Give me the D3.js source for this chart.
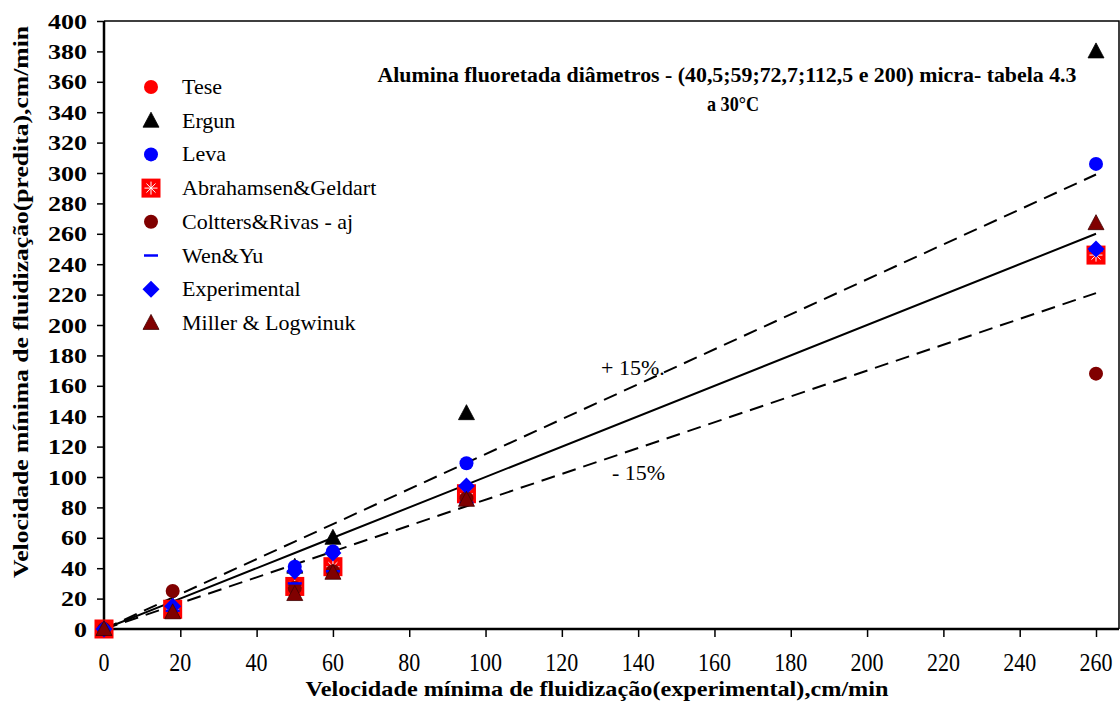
<!DOCTYPE html>
<html>
<head>
<meta charset="utf-8">
<script src="https://cdn.jsdelivr.net/npm/d3@7"></script>
<style>
  html, body { margin: 0; padding: 0; background: #fff; }
</style>
</head>
<body>
<svg id="chart" width="1120" height="725"></svg>
<script>
// Experimental minimum fluidization velocity (cm/min)
const xExp = [0, 18, 50, 60, 95, 260];

// Predicted minimum fluidization velocity for each correlation (cm/min)
const tese        = [0, 13, 28, 41, 89, 246];
const ergun       = [0, 15, 41, 60, 142, 380];
const leva        = [0, 14, 41, 51, 109, 306];
const abrahamsen  = [0, 13, 28, 41, 89, 246];
const coltters    = [0, 25, 27, 38, 86, 168];
const wenYu       = [0, 12, 30, 38, 83, 249];
const experimental= [0, 15, 38, 50, 94, 250];
const miller      = [0, 11, 23, 37, 85, 267];

// Reference lines: perfect agreement and the +/-15% band
const lineX   = [0, 18, 50, 60, 95, 260];
const ideal   = [0, 18, 50, 60, 95, 260];
const plus15  = [0, 20.7, 57.5, 69, 109.3, 299];
const minus15 = [0, 15.3, 42.5, 51, 80.8, 221];

const xTicks = [0, 20, 40, 60, 80, 100, 120, 140, 160, 180, 200, 220, 240, 260];
const yTicks = [0, 20, 40, 60, 80, 100, 120, 140, 160, 180, 200, 220, 240, 260, 280, 300, 320, 340, 360, 380, 400];

const seriesNames = ["Tese", "Ergun", "Leva", "Abrahamsen&Geldart", "Coltters&Rivas - aj",
                     "Wen&Yu", "Experimental", "Miller & Logwinuk"];
const seriesValues = [tese, ergun, leva, abrahamsen, coltters, wenYu, experimental, miller];
const seriesShapes = ["circle", "triangle", "circle", "square", "circle", "dash", "diamond", "triangle"];
const seriesColors = ["#ff0000", "#000000", "#0000ff", "#ff0000", "#800000", "#0000ff", "#0000ff", "#800000"];

const titleLines = ["Alumina fluoretada diâmetros - (40,5;59;72,7;112,5 e 200) micra- tabela 4.3", "a 30°C"];
const xTitle = "Velocidade mínima de fluidização(experimental),cm/min";
const yTitle = "Velocidade mínima de fluidização(predita),cm/min";

const SERIF = "'Liberation Serif', 'Times New Roman', Times, serif";

(function draw() {
  const svg = d3.select("#chart");
  const pLeft = 104, pRight = 1096, pTop = 21, pBottom = 629, frameRight = 1119;

  const x = d3.scaleLinear().domain([0, 260]).range([pLeft, pRight]);
  const y = d3.scaleLinear().domain([0, 400]).range([pBottom, pTop]);

  // frame (top and right)
  svg.append("path")
    .attr("d", `M${pLeft},${pTop}H${frameRight}V${pBottom}`)
    .attr("fill", "none").attr("stroke", "#000").attr("stroke-width", 1.5);

  // x axis: ticks from d3, labels placed as their own row further below
  const xAxis = svg.append("g").attr("transform", `translate(0,${pBottom})`)
    .call(d3.axisBottom(x).tickValues(xTicks).tickSize(8).tickFormat(""));
  xAxis.select(".domain").attr("d", `M${pLeft},0H${frameRight}`).attr("stroke-width", 2.5);
  xAxis.selectAll(".tick line").attr("stroke-width", 1.5);
  svg.append("g").selectAll("text").data(xTicks).join("text")
    .attr("x", d => x(d)).attr("y", 671)
    .attr("text-anchor", "middle")
    .attr("font-family", SERIF).attr("font-size", 26).attr("fill", "#000")
    .attr("textLength", d => String(d).length * 11)
    .attr("lengthAdjust", "spacingAndGlyphs")
    .text(d => d);

  // y axis
  const yAxis = svg.append("g").attr("transform", `translate(${pLeft},0)`)
    .call(d3.axisLeft(y).tickValues(yTicks).tickSize(7).tickPadding(10).tickFormat(d3.format("d")));
  yAxis.attr("font-family", SERIF).attr("font-size", 22);
  yAxis.select(".domain").attr("d", `M0,${pTop}V${pBottom}`).attr("stroke-width", 2.5);
  yAxis.selectAll(".tick line").attr("stroke-width", 1.5);
  yAxis.selectAll(".tick text")
    .attr("font-family", SERIF).attr("font-size", 22).attr("font-weight", "bold")
    .attr("fill", "#000")
    .attr("textLength", d => String(d).length * 13)
    .attr("lengthAdjust", "spacingAndGlyphs");

  function addText(sel, size, weight) {
    return sel.append("text").attr("font-family", SERIF).attr("font-size", size)
      .attr("font-weight", weight || "normal").attr("fill", "#000");
  }

  // axis titles
  addText(svg, 22, "bold").attr("x", 597).attr("y", 696).attr("text-anchor", "middle")
    .attr("textLength", 583).attr("lengthAdjust", "spacingAndGlyphs").text(xTitle);
  addText(svg, 22, "bold").attr("transform", "translate(28,302) rotate(-90)").attr("text-anchor", "middle")
    .attr("textLength", 552).attr("lengthAdjust", "spacingAndGlyphs").text(yTitle);

  // reference lines
  const lineGen = d3.line().x((d, i) => x(lineX[i])).y(d => y(d));
  svg.append("path").datum(ideal).attr("d", lineGen)
    .attr("fill", "none").attr("stroke", "#000").attr("stroke-width", 2);
  [plus15, minus15].forEach(arr => {
    svg.append("path").datum(arr).attr("d", lineGen)
      .attr("fill", "none").attr("stroke", "#000").attr("stroke-width", 2)
      .attr("stroke-dasharray", "14,8");
  });

  // band labels
  addText(svg, 22).attr("x", 601).attr("y", 375).text("+ 15%.");
  addText(svg, 22).attr("x", 612).attr("y", 480).text("- 15%");

  // marker drawing
  function drawMarker(g, shape, color, cx, cy) {
    if (shape === "circle") {
      g.append("circle").attr("cx", cx).attr("cy", cy).attr("r", 7).attr("fill", color);
    } else if (shape === "triangle") {
      g.append("path").attr("d", `M${cx},${cy - 8.5}L${cx + 8},${cy + 6.5}L${cx - 8},${cy + 6.5}Z`)
        .attr("fill", color).attr("stroke", color === "#800000" ? "#400000" : color).attr("stroke-width", 0.8);
    } else if (shape === "square") {
      g.append("rect").attr("x", cx - 9.5).attr("y", cy - 9.5).attr("width", 19).attr("height", 19).attr("fill", color);
      const r = 6.5;
      const star = [[0, -r, 0, r], [-r, 0, r, 0], [-r * 0.7, -r * 0.7, r * 0.7, r * 0.7], [-r * 0.7, r * 0.7, r * 0.7, -r * 0.7]];
      star.forEach(s => g.append("line")
        .attr("x1", cx + s[0]).attr("y1", cy + s[1]).attr("x2", cx + s[2]).attr("y2", cy + s[3])
        .attr("stroke", "#fff").attr("stroke-width", 1));
    } else if (shape === "diamond") {
      g.append("path").attr("d", `M${cx},${cy - 8.5}L${cx + 8.5},${cy}L${cx},${cy + 8.5}L${cx - 8.5},${cy}Z`).attr("fill", color);
    } else if (shape === "dash") {
      g.append("line").attr("x1", cx - 7).attr("x2", cx + 7).attr("y1", cy).attr("y2", cy)
        .attr("stroke", color).attr("stroke-width", 2.5);
    }
  }

  // data points, drawn in legend order
  seriesValues.forEach((vals, s) => {
    const g = svg.append("g");
    vals.forEach((v, i) => drawMarker(g, seriesShapes[s], seriesColors[s], x(xExp[i]), y(v)));
  });

  // legend
  const legend = svg.append("g");
  seriesNames.forEach((name, i) => {
    const ly = 87 + i * 33.7;
    drawMarker(legend, seriesShapes[i], seriesColors[i], 151, ly);
    addText(legend, 22).attr("x", 182).attr("y", ly + 7).text(name);
  });

  // title
  addText(svg, 21, "bold").attr("x", 727).attr("y", 82).attr("text-anchor", "middle")
    .attr("textLength", 699).attr("lengthAdjust", "spacingAndGlyphs").text(titleLines[0]);
  addText(svg, 22, "bold").attr("x", 733).attr("y", 111).attr("text-anchor", "middle")
    .attr("textLength", 52).attr("lengthAdjust", "spacingAndGlyphs").text(titleLines[1]);
})();
</script>
</body>
</html>
